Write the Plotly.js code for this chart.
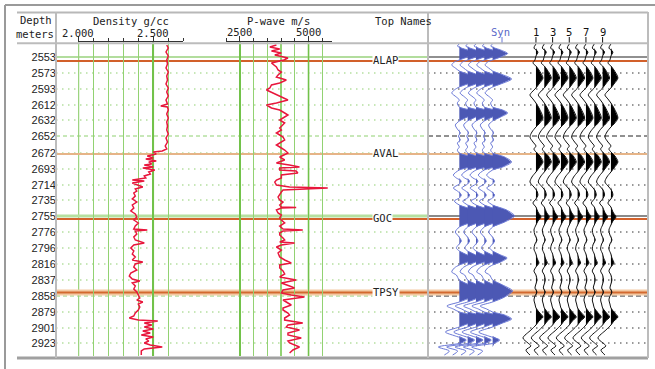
<!DOCTYPE html>
<html><head><meta charset="utf-8">
<script src="https://cdn.plot.ly/plotly-3.0.1.min.js"></script>
<style>html,body{margin:0;padding:0;background:#fff}#chart{width:655px;height:369px}</style>
</head><body><div id="chart"></div>
<script>
// ---------- DATA ----------
const depthLabels = ['2553','2573','2593','2612','2632','2652','2672','2693','2714','2735','2755','2776','2796','2816','2837','2858','2879','2901','2923'];
const tickTimes   = [0,16,32,48,63,79,96,112,128,143,159,175,191,207,223,239,255,271,286];
const dashedRows  = ['2652','2858'];
const solidRows   = ['2553','2755'];

const topNames = ['ALAP','AVAL','GOC','TPSY'];
const topTimes = [4, 97, 162, 235.5];

const densTickVals = [2.0, 2.5];
const densTickText = ['2.000', '2.500'];
const pwTickVals = [2500, 5000];
const pwTickText = ['2500', '5000'];

// Density log (g/cc)
const densT = [-12,-9,-5,-1,3,7,11,15,19,23,27,31,35,39,43,47,49,50,53,57,61,65,69,73,77,81,85,89,92,94,95,97,99,101,102,104,105,107,108,110,111,113,115,117,119,121,123,124,126,128,130,132,134,136,139,142,145,148,151,154,157,160,163,166,169,172,173,174,177,180,183,186,188,191,194,197,200,203,205,207,210,213,216,219,222,224,226,229,232,235,238,241,243,245,247,250,253,256,259,261,263,264,266,268,270,272,274,276,278,280,282,284,286,288,290,292,294,298];
const densV = [2.59,2.60,2.585,2.60,2.59,2.595,2.585,2.60,2.59,2.595,2.585,2.60,2.59,2.60,2.585,2.595,2.55,2.595,2.60,2.59,2.60,2.59,2.595,2.59,2.60,2.585,2.595,2.58,2.59,2.56,2.50,2.52,2.46,2.50,2.45,2.52,2.47,2.49,2.44,2.50,2.43,2.51,2.47,2.48,2.44,2.45,2.36,2.44,2.36,2.40,2.43,2.38,2.39,2.37,2.38,2.36,2.39,2.36,2.37,2.35,2.38,2.39,2.37,2.40,2.38,2.37,2.46,2.38,2.39,2.37,2.38,2.44,2.37,2.35,2.37,2.36,2.38,2.36,2.43,2.38,2.37,2.39,2.35,2.34,2.36,2.41,2.36,2.38,2.37,2.39,2.40,2.41,2.39,2.43,2.40,2.41,2.40,2.38,2.37,2.34,2.40,2.53,2.44,2.49,2.44,2.50,2.43,2.48,2.42,2.50,2.45,2.47,2.44,2.48,2.56,2.44,2.42,2.42];

// P-wave log (m/s)
const pwT = [-12,-10,-8,-6,-4,-2,1,3,6,10,13,15,18,20,23,26,28,31,33,36,38,41,43,46,48,51,53,56,58,61,63,66,68,71,73,76,78,80,83,86,88,91,93,96,98,100,103,106,108,110,111,113,114,116,118,121,123,125,128,130,131,132,133,135,138,140,143,145,148,150,150.5,151,153,156,158,161,163,166,169,172,173,174,176,178,181,183,185,186,188,190,193,196,200,203,206,208,211,214,217,220,223,226,229,231,233,236,238,240,243,246,248,251,253,256,258,261,263,266,268,270,273,276,278,281,284,286,290,293,296];
const pwV = [3830,3590,3950,3650,4010,3770,4250,4100,3650,3830,3890,4010,3890,3830,4190,3950,3650,3590,3470,3700,3890,4100,4250,3830,3470,3650,3950,4130,4250,4070,3950,4130,4070,3950,4010,3830,3950,4070,4130,3950,3830,4010,4130,4250,4070,3950,4130,3830,4300,4670,3950,3950,4550,4610,4010,4010,3830,3770,3830,4310,5700,4430,4070,4010,3950,3890,3950,4070,3950,4010,4550,4010,3830,3890,4010,3950,4010,4130,3950,4070,4790,4070,3950,3950,4070,4130,3950,4490,4010,3830,4010,3890,3950,4130,4370,3950,3950,4070,4130,3950,4550,4010,4310,4490,4070,4010,4370,4850,4070,4250,4370,4070,4070,4250,4310,4130,4130,4790,4250,4190,4670,4250,4250,4735,4250,4310,4670,4430,4310];

// Synthetic (Syn) wavelet amplitudes
const synT = [-13,-11,-9,-7,-3.5,0,3,5,8,11,14,17,22,27,30,33,36,40,43,46,50,53,56,60,64,68,72,76,79,83,86,90,93,96,100,105,110,113,118,121,124,127,131,134,138,141,144,148,153,159,165,170,175,179,184,188,191,194,198,201,205,208,211,215,218,223,228,234,240,245,249,252,255,258,262,266,270,275,279,283,286,290,294,298];
const synA = [0,-2,2,8,15,8,0,-5,-7.6,-4,0,8,19,8,0,-5,-7.6,-3,0,-2,0,10,15,8,0,-4,-2,1,-1,1,-2,0,-2,0,12,19,10,0,-6,-3,2,0,-6,-2,2,0,-5,0,14,22,12,0,-4,-1,2,-1,-3,0,8,14.5,8,0,-5,-7.6,-3,0,10,20,12,0,-12.5,-6,0,12,19,10,0,-14,-4,7,2,-21,-10,-15];
const synTraces = [1,2,3,4,5];

// Seismic gather traces amplitudes
const gathT = [-13,-9,-5,-1,3,6,9,13,21,27,31,35,38,42,46,51,61,67,70,75,80,85,89,92,95,99,105,111,115,120,125,130,134,138,142,146,150,155,160,164,168,173,178,183,187,192,197,201,206,210,214,218,223,227,231,235,239,243,247,251,255,260,264,268,273,281,286,289,293,298];
const gathA = [0,-2,2,0,-1,-3,0,3,7,3,0,-4,-6,-3,0,3,7,3,0,-4,-6,-3,0,-2,0,4,7,3,0,-4,-6,-2,1,2,0,-3,0,2,5,2,0,-2,-1,1,-1,-2,0,1,3,0,-2,0,1,0,-1,1,-1,-2,-1,0,3,7,3,0,-5,-13,-8,-5,-10,-6];
const gathTraces = [1,2,3,4,5,6,7,8,9,10];
const gathLabels = ['1','3','5','7','9'];

// ---------- LAYOUT HELPERS ----------
const W = 655, H = 369;
const px = v => v / W;
const py = v => 1 - v / H;
const MONO = 'DejaVu Sans Mono';
const GAIN = 0.12;
const SYN0 = 2.76, GATH0 = 11.96;

const traces = [];
traces.push({x: densV, y: densT, xaxis: 'x', yaxis: 'y', mode: 'lines',
  line: {color: '#e8173c', width: 1.5}, hoverinfo: 'skip'});
traces.push({x: pwV, y: pwT, xaxis: 'x2', yaxis: 'y', mode: 'lines',
  line: {color: '#e8173c', width: 1.5}, hoverinfo: 'skip'});

function wiggle(base, T, A, lineColor, fillColor, lw) {
  const fx = A.map(a => base + GAIN * Math.max(a, 0));
  traces.push({x: fx.concat([base, base]), y: T.concat([T[T.length - 1], T[0]]),
    xaxis: 'x3', yaxis: 'y', mode: 'lines', fill: 'toself', fillcolor: fillColor,
    line: {width: 0, color: fillColor}, hoverinfo: 'skip'});
  traces.push({x: A.map(a => base + GAIN * a), y: T, xaxis: 'x3', yaxis: 'y', mode: 'lines',
    line: {color: lineColor, width: lw, shape: 'spline', smoothing: 0.8}, hoverinfo: 'skip'});
}
synTraces.forEach(n => wiggle(SYN0 + n, synT, synA, '#6a78d6', '#4c58b4', 1));
gathTraces.forEach(n => wiggle(GATH0 + n, gathT, gathA, '#111', '#000', 1));

// ---------- SHAPES ----------
const shapes = [];
const hl = (x0, x1, y, color, width, dash, layer) => shapes.push({type: 'line', xref: 'paper', yref: 'y',
  x0: px(x0), x1: px(x1), y0: y, y1: y, line: {color, width, dash: dash || 'solid'}, layer: layer || 'between'});

// major log grid lines
densTickVals.forEach(v => shapes.push({type: 'line', xref: 'x', yref: 'paper', x0: v, x1: v,
  y0: py(356), y1: py(42), line: {color: '#72c24a', width: 1.6}, layer: 'between'}));
pwTickVals.forEach(v => shapes.push({type: 'line', xref: 'x2', yref: 'paper', x0: v, x1: v,
  y0: py(356), y1: py(42), line: {color: '#72c24a', width: 1.6}, layer: 'between'}));

depthLabels.forEach((lab, i) => {
  const t = tickTimes[i];
  if (solidRows.includes(lab)) {
    const goc = lab === '2755';
    hl(56, 428, t, goc ? '#b6e0a0' : '#98d27c', goc ? 3 : 1.5);
    hl(428, 648, t, goc ? '#8a8a8a' : '#222', goc ? 2 : 1.2);
  } else if (dashedRows.includes(lab)) {
    hl(56, 428, t, '#8fd070', 1, '4px,3px');
    hl(428, 648, t, '#222', 1, '5px,3px');
  } else {
    hl(56, 428, t, '#8fd070', 1.2, '1.5px,4.5px');
    hl(428, 648, t, '#333', 1, '1.5px,4.5px');
  }
});

const topColors = ['#d2602a', '#e6b487', '#d4622c', '#d3692f'];
topNames.forEach((nm, i) => {
  if (nm === 'TPSY') hl(56, 648, topTimes[i], '#f3caa4', 6);
  hl(56, 648, topTimes[i], topColors[i], 2);
});

// frame / separators
const frame = (x0, y0, x1, y1, color, width) => shapes.push({type: 'line', xref: 'paper', yref: 'paper',
  x0: px(x0), x1: px(x1), y0: py(y0), y1: py(y1), line: {color, width}, layer: 'above'});
frame(5, 5, 655, 5, '#9a9a9a', 2);
frame(5, 5, 5, 369, '#9a9a9a', 2);
frame(17, 12.5, 648, 12.5, '#b8b8b8', 2);
frame(17, 43.3, 648, 43.3, '#bcbcbc', 2);
frame(17, 358, 648, 358, '#a0a0a0', 3);
frame(56, 12, 56, 358, '#bcbcbc', 2);
frame(428, 12, 428, 358, '#bcbcbc', 2);
frame(648, 12, 648, 358, '#bcbcbc', 2);
// trace header ticks
shapes.push({type: 'line', xref: 'paper', yref: 'paper', x0: px(502), x1: px(502), y0: py(37), y1: py(42.5),
  line: {color: '#6a78d6', width: 1}});
gathLabels.forEach(l => shapes.push({type: 'line', xref: 'x3', yref: 'paper',
  x0: GATH0 + Number(l), x1: GATH0 + Number(l), y0: py(37), y1: py(42.5), line: {color: '#111', width: 1}}));

// ---------- ANNOTATIONS ----------
const ann = [];
const txt = (text, x, y, anchor, color, size, fam) => ann.push({text, xref: 'paper', yref: 'paper',
  x: px(x), y: py(y), xanchor: anchor || 'center', yanchor: 'middle', showarrow: false,
  font: {family: fam || MONO, size: size || 10.5, color: color || '#222'}});
txt('Depth', 36, 20);
txt('meters', 35, 34);
txt('Density g/cc', 130.5, 21);
txt('P-wave m/s', 278.5, 21);
txt('Top Names', 373, 21, 'left');
txt('Syn', 500, 32.5, 'center', '#5a68c8');
densTickVals.forEach((v, i) => ann.push({text: densTickText[i], xref: 'x', yref: 'paper', x: v, y: py(33),
  xanchor: 'center', yanchor: 'middle', showarrow: false, font: {family: MONO, size: 10.5, color: '#222'}}));
pwTickVals.forEach((v, i) => ann.push({text: pwTickText[i], xref: 'x2', yref: 'paper', x: v, y: py(32),
  xanchor: 'center', yanchor: 'middle', showarrow: false, font: {family: MONO, size: 10.5, color: '#222'}}));
gathLabels.forEach(l => ann.push({text: l, xref: 'x3', yref: 'paper', x: GATH0 + Number(l), y: py(32),
  xanchor: 'center', yanchor: 'middle', showarrow: false, font: {family: MONO, size: 10.5, color: '#111'}}));
topNames.forEach((nm, i) => ann.push({text: nm, xref: 'paper', yref: 'y', x: px(372), y: topTimes[i] - 1,
  xanchor: 'left', yanchor: 'middle', showarrow: false, bgcolor: '#fff', borderpad: 0,
  font: {family: MONO, size: 10.5, color: '#222'}}));

const logAxis = (dom, rng, dtick, minor) => ({
  domain: dom, range: rng, anchor: 'y', side: 'top', showline: true, linecolor: '#333', linewidth: 1,
  ticks: 'outside', ticklen: 5, tickcolor: '#333', tick0: 0, dtick: dtick, showticklabels: false,
  showgrid: true, gridcolor: '#72c24a', gridwidth: 1.6, zeroline: false, fixedrange: true,
  minor: {tick0: 0, dtick: minor, ticks: 'outside', ticklen: 3, tickcolor: '#333', showgrid: true,
    gridcolor: '#92d272', gridwidth: 1.3}
});

const layout = {
  width: W, height: H, margin: {l: 0, r: 0, t: 0, b: 0},
  paper_bgcolor: '#fff', plot_bgcolor: 'rgba(0,0,0,0)', showlegend: false,
  xaxis: logAxis([px(78.3), px(183.3)], [1.9995, 2.7005], 0.5, 0.1),
  xaxis2: logAxis([px(226.2), px(331.7)], [2000, 5844], 2500, 500),
  xaxis3: {domain: [px(428), px(648)], range: [0, 26.41], anchor: 'y', visible: false, fixedrange: true},
  yaxis: {domain: [py(356), py(41.7)], range: [299, -15.3], anchor: 'free', position: px(56),
    tickmode: 'array', tickvals: tickTimes, ticktext: depthLabels, ticks: '', showgrid: false,
    zeroline: false, showline: false, tickfont: {family: 'Liberation Sans', size: 11, color: '#222'}},
  shapes, annotations: ann
};

Plotly.newPlot('chart', traces, layout, {staticPlot: true, displayModeBar: false});
</script></body></html>
